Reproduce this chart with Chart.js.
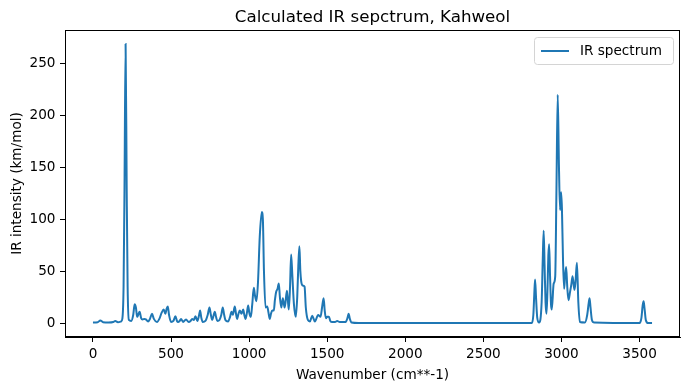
<!DOCTYPE html>
<html>
<head>
<meta charset="utf-8">
<script src="https://cdn.jsdelivr.net/npm/chart.js@4"></script>
<style>
  body { margin: 0; background: #fff; }
  canvas { display: block; }
</style>
</head>
<body>
<canvas id="irChart" width="689" height="390"></canvas>
<script>
// points (wavenumber in cm**-1, intensity in km/mol)
const wavenumbers = [
  0, 30, 47, 65, 100, 130, 143, 160, 180,
  188, 196, 202, 209, 216, 222, 230,
  245, 258, 267, 275, 283, 290, 299, 308, 318, 330, 339, 353, 365, 378, 390, 410,
  425, 440, 453, 464, 472, 479, 487, 500, 515, 528, 538, 545, 555, 564, 577, 596,
  613, 625, 635, 646, 656, 669, 680, 686, 694, 703, 720, 735, 746, 755, 763, 772,
  780, 788, 797, 810, 822, 831, 840, 848, 865, 878, 887, 896, 908, 916, 923, 932,
  940, 951, 962, 969, 977, 986, 994, 1001, 1011, 1020, 1030, 1038, 1047, 1057, 1068,
  1081, 1088, 1095, 1105, 1116, 1124, 1132, 1140, 1148, 1158, 1165, 1173, 1182, 1190,
  1197, 1206, 1216, 1227, 1233, 1242, 1248, 1254, 1262, 1269, 1277, 1287, 1299,
  1308, 1315, 1322, 1328, 1338, 1347, 1355, 1363, 1376, 1389, 1404, 1421, 1442,
  1457, 1467, 1477, 1484, 1492, 1500, 1511, 1520, 1532, 1550, 1564, 1580, 1618,
  1630, 1637, 1645, 1656, 1700, 2000, 2500, 2810,
  2820, 2826, 2831, 2837, 2845, 2857, 2873, 2880, 2886, 2892, 2898, 2904, 2910,
  2916, 2921, 2927, 2933, 2938, 2950, 2960, 2968, 2976, 2984, 2991, 2998, 3003,
  3010, 3017, 3023, 3030, 3037, 3045, 3055, 3063, 3071, 3083, 3090, 3099, 3108,
  3118, 3150, 3165, 3175, 3180, 3186, 3195, 3210, 3500, 3512, 3520, 3526, 3532,
  3540, 3555, 3580
];
const intensities = [
  0.5, 0.7, 2.5, 0.8, 0.5, 1, 2, 0.8, 1.5,
  4, 35, 130, 269, 130, 35, 3,
  2, 8, 18, 15, 6, 8, 11, 5, 3.5, 4, 3.5, 1.5, 4, 9, 4, 1,
  4, 10, 13, 9, 14, 16, 8, 1, 2, 6.5, 2, 1, 2, 4, 1, 3.5,
  1, 2, 4, 3, 6.5, 2, 8, 12, 5, 1, 2, 8, 15, 8, 3, 7,
  11, 6, 2, 3, 8, 15, 8, 3, 1.5, 6, 11, 8, 16, 9, 4, 9,
  12, 9, 13, 8, 4, 10, 17, 10, 6, 18, 34, 26, 21, 40, 83,
  107, 100, 50, 15, 16, 10, 4, 9, 12, 12, 22, 30, 33, 38,
  25, 15, 24, 15, 20, 31, 22, 13, 35, 66, 45, 18, 6,
  25, 55, 74, 50, 37, 36, 35, 15, 3, 1.5, 7, 1.5, 7.7,
  6, 15, 24, 12, 4.5, 6, 6, 2, 1, 1, 2, 1, 1,
  5, 9, 4, 0.5, 0, 0, 0, 0,
  8, 28, 42, 25, 5, 0.5, 20, 60, 89, 55, 20, 9, 30,
  65, 76, 45, 18, 13, 38, 45, 130, 220, 150, 109, 126, 110,
  60, 33, 45, 54, 35, 22, 30, 37, 45, 32, 40, 58, 20,
  1, 0.5, 8, 20, 24, 15, 3, 0.5, 0, 5, 17, 21, 14,
  3, 0, 0
];
const xTicks = [0, 500, 1000, 1500, 2000, 2500, 3000, 3500];
const yTicks = [0, 50, 100, 150, 200, 250];
const chartTitle = 'Calculated IR sepctrum, Kahweol';

const spectrumPoints = wavenumbers.map((w, i) => ({ x: w, y: intensities[i] }));

const fontFamily = '"DejaVu Sans", sans-serif';
const labelSize = 13.6;

// box round the plot, like matplotlib's frame, plus the title centred over the axes
const framePlugin = {
  id: 'frame',
  afterDraw(chart) {
    const { ctx, chartArea: a } = chart;
    ctx.save();
    ctx.strokeStyle = '#000';
    ctx.lineWidth = 1;
    ctx.strokeRect(a.left + 0.5, a.top + 0.5, a.right - a.left - 1, a.bottom - a.top - 1);
    ctx.fillStyle = '#000';
    ctx.font = '16.7px ' + fontFamily;
    ctx.textAlign = 'center';
    ctx.textBaseline = 'alphabetic';
    ctx.fillText(chartTitle, (a.left + a.right) / 2, a.top - 8.5);
    ctx.restore();
  }
};

// legend drawn inside the plot, upper right
const innerLegend = {
  id: 'innerLegend',
  afterDraw(chart) {
    const { ctx, chartArea: a } = chart;
    const ds = chart.data.datasets[0];
    const w = 139, h = 27;
    const x = a.right - 7 - w, y = a.top + 7;
    ctx.save();
    ctx.beginPath();
    ctx.roundRect(x + 0.5, y + 0.5, w, h, 3);
    ctx.fillStyle = 'rgba(255,255,255,0.8)';
    ctx.fill();
    ctx.strokeStyle = '#d4d4d4';
    ctx.lineWidth = 1;
    ctx.stroke();
    ctx.beginPath();
    ctx.moveTo(x + 7, y + 14);
    ctx.lineTo(x + 35, y + 14);
    ctx.strokeStyle = ds.borderColor;
    ctx.lineWidth = 2;
    ctx.stroke();
    ctx.fillStyle = '#000';
    ctx.font = labelSize + 'px ' + fontFamily;
    ctx.textBaseline = 'middle';
    ctx.fillText(ds.label, x + 46, y + 14);
    ctx.restore();
  }
};

new Chart(document.getElementById('irChart'), {
  type: 'line',
  data: {
    datasets: [{
      label: 'IR spectrum',
      data: spectrumPoints,
      borderColor: '#1f77b4',
      borderWidth: 2,
      pointRadius: 0,
      cubicInterpolationMode: 'monotone',
      fill: false
    }]
  },
  options: {
    responsive: false,
    animation: false,
    devicePixelRatio: 1,
    layout: { padding: { left: 0, right: 9, top: 30, bottom: 0 } },
    plugins: {
      legend: { display: false },
      tooltip: { enabled: false },
      title: { display: false }
    },
    scales: {
      x: {
        type: 'linear',
        min: -179,
        max: 3759,
        afterBuildTicks: scale => { scale.ticks = xTicks.map(v => ({ value: v })); },
        afterFit: scale => { scale.height = 53; },
        ticks: {
          color: '#000',
          font: { family: fontFamily, size: labelSize },
          padding: 4,
          maxRotation: 0,
          callback: v => String(v)
        },
        grid: { drawOnChartArea: false, tickLength: 5, tickColor: '#000' },
        border: { display: true, color: '#000', width: 1 },
        title: {
          display: true,
          text: 'Wavenumber (cm**-1)',
          color: '#000',
          font: { family: fontFamily, size: labelSize },
          padding: { top: 0, bottom: 6 }
        }
      },
      y: {
        min: -13.45,
        max: 282.4,
        afterBuildTicks: scale => { scale.ticks = yTicks.map(v => ({ value: v })); },
        afterFit: scale => { scale.width = 65; },
        ticks: {
          color: '#000',
          font: { family: fontFamily, size: labelSize },
          padding: 4.5,
          callback: v => String(v)
        },
        grid: { drawOnChartArea: false, tickLength: 5, tickColor: '#000' },
        border: { display: true, color: '#000', width: 1 },
        title: {
          display: true,
          text: 'IR intensity (km/mol)',
          color: '#000',
          font: { family: fontFamily, size: labelSize },
          padding: { top: 9, bottom: 0 }
        }
      }
    }
  },
  plugins: [framePlugin, innerLegend]
});
</script>
</body>
</html>
